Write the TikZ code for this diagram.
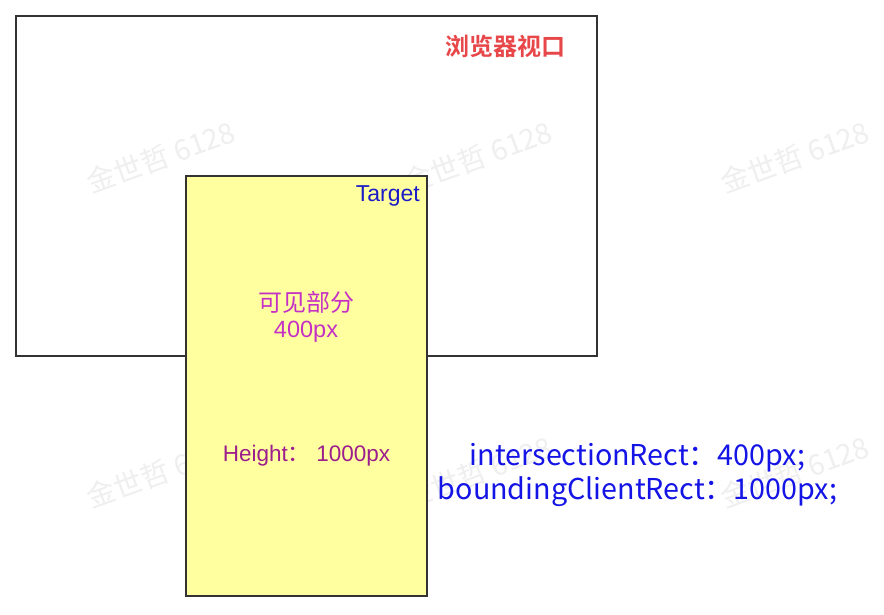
\documentclass[tikz,border=0pt]{standalone}
\usepackage{fontspec}
\setmainfont{Liberation Sans}
\newfontfamily\cjk{Noto Sans CJK SC}
\newfontfamily\cjkb{Noto Sans CJK SC Bold}
\definecolor{vpred}{HTML}{E8474A}
\definecolor{tblue}{HTML}{1C1CC8}
\definecolor{vmag}{HTML}{C531C5}
\definecolor{hpur}{HTML}{9B1E8C}
\definecolor{rblue}{HTML}{1414E6}
\definecolor{tfill}{HTML}{FFFFA0}
\definecolor{wm}{HTML}{EFEFEF}
\tikzset{
  box/.style={draw=black!80, line width=1.6pt},
  wmark/.style={text=wm, font=\cjk\fontsize{28.5}{30}\selectfont, rotate=20, inner sep=0pt},
}
\begin{document}
\begin{tikzpicture}[x=1pt,y=-1pt]
\useasboundingbox[fill=white] (0,0) rectangle (884,614);
% watermarks
\foreach \wx/\wy [count=\i] in {161/157,478/157,795/157,161/472,478/472,795/472}
  \node[wmark] (wm\i) at (\wx,\wy) {金世哲 6128};
\node[box, minimum width=581pt, minimum height=340pt, inner sep=0pt] (vp) at (306.5,186) {};
\node[box, fill=tfill, minimum width=241pt, minimum height=420pt, inner sep=0pt] (tg) at (306.5,386) {};
\node[text=vpred, font=\cjkb\fontsize{24}{28}\selectfont, inner sep=0pt] (vpl) at (505.5,46) {浏览器视口};
\node[text=tblue, font=\fontsize{23}{26}\selectfont, anchor=east, inner sep=0pt] (tgl) at (420,196) {Target};
\node[text=vmag, font=\cjk\fontsize{24}{28}\selectfont, inner sep=0pt] (vis) at (306.5,302) {可见部分};
\node[text=vmag, font=\fontsize{23.5}{28}\selectfont, inner sep=0pt] (vis2) at (306,332) {400px};
\node[text=hpur, font=\fontsize{22.5}{26}\selectfont, inner sep=0pt] (hl) at (306.5,456) {Height{\cjk ：}\hspace{6pt}1000px};
\node[text=rblue, font=\cjk\fontsize{28.7}{32}\selectfont, inner sep=0pt] (ir) at (637.5,458) {intersectionRect：400px;};
\node[text=rblue, font=\cjk\fontsize{28.7}{32}\selectfont, inner sep=0pt] (br) at (637.5,492) {boundingClientRect：1000px;};
\end{tikzpicture}
\end{document}
